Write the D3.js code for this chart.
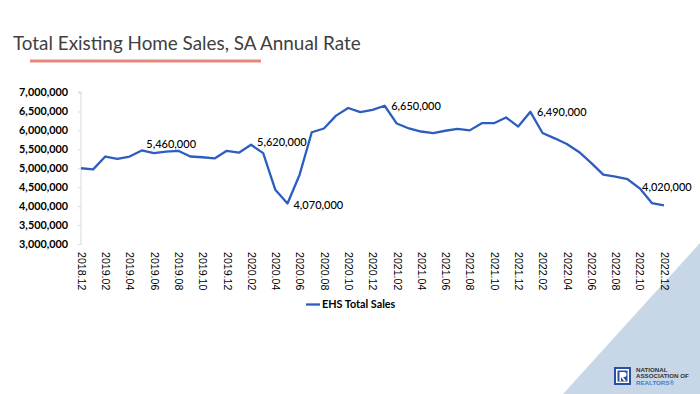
<!DOCTYPE html>
<html><head><meta charset="utf-8">
<script src="https://cdn.jsdelivr.net/npm/d3@7"></script>
<style>html,body{margin:0;padding:0;background:#fff;overflow:hidden}svg{display:block}</style>
</head><body>
<svg id="c" width="700" height="394"></svg>
<script>
const months = ["2018.12","2019.01","2019.02","2019.03","2019.04","2019.05","2019.06","2019.07","2019.08","2019.09","2019.10","2019.11","2019.12",
"2020.01","2020.02","2020.03","2020.04","2020.05","2020.06","2020.07","2020.08","2020.09","2020.10","2020.11","2020.12",
"2021.01","2021.02","2021.03","2021.04","2021.05","2021.06","2021.07","2021.08","2021.09","2021.10","2021.11","2021.12",
"2022.01","2022.02","2022.03","2022.04","2022.05","2022.06","2022.07","2022.08","2022.09","2022.10","2022.11","2022.12"];
const sales = [5000000,4970000,5310000,5250000,5310000,5470000,5400000,5440000,5460000,5310000,5290000,5260000,5460000,
5410000,5620000,5400000,4430000,4070000,4830000,5950000,6050000,6390000,6590000,6480000,6540000,
6650000,6180000,6050000,5970000,5930000,5990000,6040000,6000000,6190000,6190000,6340000,6100000,
6490000,5930000,5790000,5640000,5430000,5140000,4830000,4780000,4710000,4470000,4080000,4020000];
const yTicks = [3000000,3500000,4000000,4500000,5000000,5500000,6000000,6500000,7000000];
const xTickLabels = months.filter((m,i)=>i%2===0);
const labelledMonths = ["2019.08","2020.02","2020.05","2021.01","2022.01","2022.12"];
const seriesName = "EHS Total Sales";
const titleText = "Total Existing Home Sales, SA Annual Rate";

const svg = d3.select("#c");
const lineColor = "#2D5DBE";

// background triangle
svg.append("path").attr("d","M563,394 L700,243 L700,394 Z").attr("fill","#C7D7E7");

// title
const title = svg.append("text").attr("x",13).attr("y",49.5).attr("fill","#404040")
  .style("font-family","Lato, 'Open Sans', sans-serif").style("font-size","20px").text(titleText);
const tw = title.node().getComputedTextLength();
title.style("font-size",(20*348/tw).toFixed(2)+"px");
svg.append("rect").attr("x",30).attr("y",59.5).attr("width",231).attr("height",3).attr("fill","#E8877F");

const x = d3.scalePoint().domain(months).range([81,664]);
const y = d3.scaleLinear().domain([3000000,7000000]).range([244,92.5]);

// y axis
const yAxis = svg.append("g").attr("transform","translate(81,0)")
  .call(d3.axisLeft(y).tickValues(yTicks).tickSize(3).tickPadding(10).tickFormat(d3.format(",")));
yAxis.select(".domain").attr("stroke","#D9D9D9").attr("d","M-3,244.5H0V92H-3");
yAxis.selectAll(".tick line").attr("stroke","#D9D9D9");
yAxis.selectAll(".tick text").attr("fill","#000").style("font-family","Lato, sans-serif")
  .style("font-size","10.8px").style("font-weight","bold");

// x axis labels
const xAxis = svg.append("g").attr("transform","translate(0,252)")
  .call(d3.axisBottom(x).tickValues(xTickLabels).tickSize(0).tickPadding(0));
xAxis.select(".domain").remove();
xAxis.selectAll(".tick text").attr("transform","rotate(90)").attr("x",0).attr("y",0).attr("dy","0.35em")
  .attr("text-anchor","start").attr("fill","#000")
  .style("font-family","'Liberation Sans', Arial, sans-serif").style("font-size","10.6px");

// line
svg.append("path").datum(sales.map((v,i)=>[months[i],v]))
  .attr("fill","none").attr("stroke",lineColor).attr("stroke-width",2.3).attr("stroke-linejoin","round")
  .attr("d",d3.line().x(d=>x(d[0])).y(d=>y(d[1])));

// data labels
const offs = {"2019.08":[-7,-7,"middle"],"2020.02":[6,-3,"start"],"2020.05":[6,2,"start"],
  "2021.01":[6.5,0.7,"start"],"2022.01":[6.5,0.3,"start"],"2022.12":[-22,-18,"start"]};
const fmt = d3.format(",");
svg.append("g").selectAll("text").data(labelledMonths).join("text")
  .attr("x",m=>x(m)+offs[m][0]).attr("y",m=>y(sales[months.indexOf(m)])+offs[m][1])
  .attr("dy","0.35em").attr("text-anchor",m=>offs[m][2]).attr("fill","#000")
  .style("font-family","Lato, sans-serif").style("font-size","11px").style("font-weight","500")
  .text(m=>fmt(sales[months.indexOf(m)]));

// legend
svg.append("line").attr("x1",306).attr("x2",320).attr("y1",304.5).attr("y2",304.5)
  .attr("stroke",lineColor).attr("stroke-width",2.3);
svg.append("text").attr("x",322).attr("y",304.5).attr("dy","0.35em").attr("fill","#000")
  .style("font-family","Lato, sans-serif").style("font-size","10.8px").style("font-weight","bold").text(seriesName);

// logo
const lg = svg.append("g");
lg.append("rect").attr("x",614).attr("y",367).attr("width",17).attr("height",18).attr("fill","#2B4FA3");
lg.append("rect").attr("x",616).attr("y",369).attr("width",13).attr("height",14).attr("fill","#fff");
lg.append("rect").attr("x",617.5).attr("y",370.5).attr("width",10).attr("height",11).attr("fill","#2B4FA3");
lg.append("path").attr("d","M619.5,372 h4.5 a2.5,2.5 0 0 1 0,5 h-1 l3,4 h-2 l-3,-4 v4 h-1.5 Z").attr("fill","#fff");
const lt = [["NATIONAL",371.5,"#333"],["ASSOCIATION OF",378.3,"#333"],["REALTORS®",385,"#4A7ACB"]];
lg.selectAll("text.l").data(lt).join("text").attr("class","l").attr("x",636).attr("y",d=>d[1]).attr("fill",d=>d[2])
  .style("font-family","'Liberation Sans', Arial, sans-serif").style("font-size","6.2px").style("font-weight","bold").text(d=>d[0]);
</script>
</body></html>
